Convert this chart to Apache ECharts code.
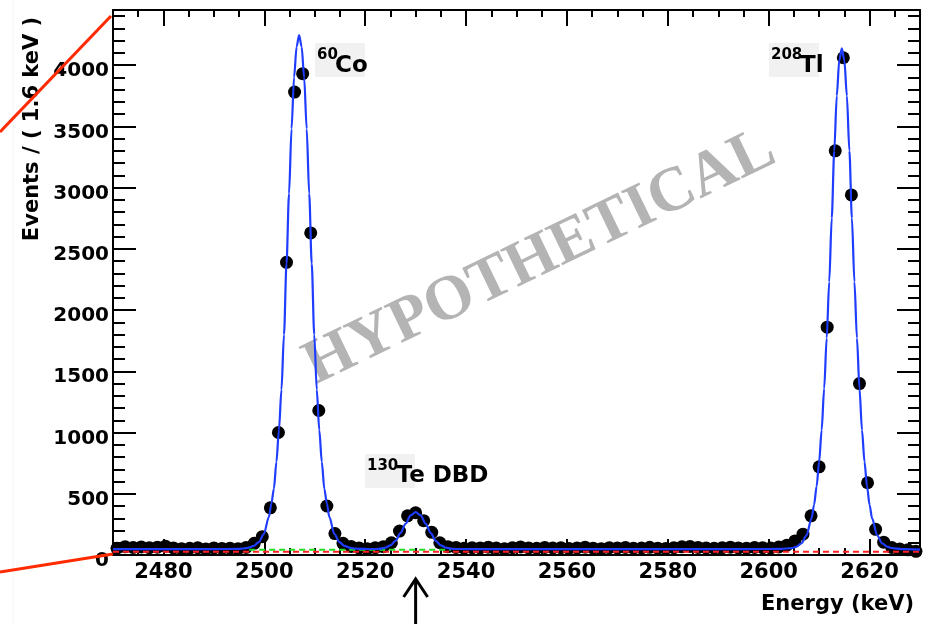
<!DOCTYPE html>
<html><head><meta charset="utf-8">
<script src="https://cdn.jsdelivr.net/npm/echarts@6/dist/echarts.min.js"></script>
<style>html,body{margin:0;padding:0;background:#fff}#c{width:932px;height:624px}</style>
</head><body><div id="c"></div>
<script>
// ---- data ----
const energies = [2470.8,2472.4,2474.0,2475.6,2477.2,2478.8,2480.4,2482.0,2483.6,2485.2,
2486.8,2488.4,2490.0,2491.6,2493.2,2494.8,2496.4,2498.0,2499.6,2501.2,
2502.8,2504.4,2506.0,2507.6,2509.2,2510.8,2512.4,2514.0,2515.6,2517.2,
2518.8,2520.4,2522.0,2523.6,2525.2,2526.8,2528.4,2530.0,2531.6,2533.2,
2534.8,2536.4,2538.0,2539.6,2541.2,2542.8,2544.4,2546.0,2547.6,2549.2,
2550.8,2552.4,2554.0,2555.6,2557.2,2558.8,2560.4,2562.0,2563.6,2565.2,
2566.8,2568.4,2570.0,2571.6,2573.2,2574.8,2576.4,2578.0,2579.6,2581.2,
2582.8,2584.4,2586.0,2587.6,2589.2,2590.8,2592.4,2594.0,2595.6,2597.2,
2598.8,2600.4,2602.0,2603.6,2605.2,2606.8,2608.4,2610.0,2611.6,2613.2,
2614.8,2616.4,2618.0,2619.6,2621.2,2622.8,2624.4,2626.0,2627.6,2629.2];
const counts = [55,68,62,66,60,64,72,58,52,55,
60,50,58,54,56,52,62,95,150,385,
1000,2390,3780,3930,2630,1180,400,175,95,70,
58,52,60,68,100,195,320,345,280,185,
100,68,62,55,60,58,64,57,52,60,
66,58,55,62,57,60,54,58,64,56,
52,60,58,62,55,57,63,56,54,60,
67,70,62,58,55,60,64,58,56,62,
60,57,66,80,115,170,320,720,1860,3300,
4060,2940,1400,590,210,105,62,48,42,30];

const fitEnergy = [2470,2480,2490,2494.9,2495.9,2496.9,2497.9,2498.9,2499.9,2500.9,2501.4,2501.9,2502.4,2502.9,2503.4,2503.9,2504.4,2504.9,2505.4,2505.9,2506.4,2506.9,
2507.4,2507.9,2508.4,2508.9,2509.4,2509.9,2510.4,2510.9,2511.4,2511.9,2512.4,2512.9,2513.9,2514.9,2515.9,2516.9,2517.9,2518.9,2520.5,
2522,2523,2524,2525,2526,2527,2528,2529,2530,2531,2532,2533,2534,2535,2536,2537,2538,2545,2560,2580,2595,
2602.5,2604.5,2605.5,2606.5,2607.5,2608.5,2609,2609.5,2610,2610.5,2611,2611.5,2612,2612.5,2613,2613.5,2614,2614.5,
2615,2615.5,2616,2616.5,2617,2617.5,2618,2618.5,2619,2619.5,2620,2620.5,2621.5,2622.5,2623.5,2624.5,2626.5,2630];
const fitCounts = [48,48,48,50,53,60,74,105,170,310,420,540,760,1020,1350,1800,2380,2950,3480,3900,4150,4245,
4150,3900,3480,2950,2380,1800,1350,1020,760,540,420,310,170,105,74,60,53,50,49,
49,52,60,78,116,178,255,323,350,323,255,178,116,78,60,52,49,48,48,48,48,
50,56,68,95,160,300,410,560,760,1020,1360,1770,2230,2750,3300,3750,4040,4136,
4040,3750,3300,2750,2230,1770,1360,1020,760,560,410,300,160,95,68,56,48,44];

const redBkgEnergy = [2470, 2630];
const redBkgCounts = [27, 27];
const greenBkgEnergy = [2497, 2537];
const greenBkgCounts = [42, 42];

const xTickLabels = [2480,2500,2520,2540,2560,2580,2600,2620];
const yTickLabels = [0,500,1000,1500,2000,2500,3000,3500,4000];

const xMin = 2470, xMax = 2630, yMin = 0, yMax = 4450;
const dbdEnergy = 2530;

// ---- chart ----
const pairs = (xs, ys) => xs.map((x, i) => [x, ys[i]]);
const FONT = 'DejaVu Sans';
const lineStyleAxis = { color: '#000', width: 2 };

const chart = echarts.init(document.getElementById('c'), null, { renderer: 'canvas' });

const xAx = (pos, main, showLine, labels) => ({
  type: 'value', position: pos, min: xMin, max: xMax,
  interval: main ? undefined : 5,
  axisLine: { show: showLine, onZero: false, lineStyle: lineStyleAxis },
  axisTick: main ? { show: true, inside: true, length: 16, lineStyle: { color: '#000', width: 2 }, customValues: xTickLabels }
                 : { show: true, inside: true, length: 7, lineStyle: { color: '#000', width: 2 } },
  axisLabel: labels ? { show: true, customValues: xTickLabels, formatter: v => String(v), color: '#000', fontFamily: FONT, fontWeight: 'bold', fontSize: 21, margin: 7 } : { show: false },
  splitLine: { show: false }
});
const yAx = (pos, main, showLine, labels) => ({
  type: 'value', position: pos, min: yMin, max: yMax,
  interval: main ? undefined : 100,
  axisLine: { show: showLine, onZero: false, lineStyle: lineStyleAxis },
  axisTick: main ? { show: true, inside: true, length: 23, lineStyle: { color: '#000', width: 2 }, customValues: yTickLabels }
                 : { show: true, inside: true, length: 12, lineStyle: { color: '#000', width: 2 } },
  axisLabel: labels ? { show: true, customValues: yTickLabels, formatter: v => String(v), color: '#000', fontFamily: FONT, fontWeight: 'bold', fontSize: 20, margin: 4, verticalAlign: 'top', lineHeight: 12 } : { show: false },
  splitLine: { show: false }
});

chart.setOption({
  animation: false,
  backgroundColor: '#fff',
  grid: { left: 113, right: 12, top: 10, bottom: 69, containLabel: false },
  xAxis: [ xAx('bottom', true, true, true), xAx('bottom', false, false, false), xAx('top', true, true, false), xAx('top', false, false, false) ],
  yAxis: [ yAx('left', true, true, true), yAx('left', false, false, false), yAx('right', true, true, false), yAx('right', false, false, false) ],
  series: [
    { type: 'scatter', xAxisIndex: 0, yAxisIndex: 0, data: pairs(energies, counts), symbol: 'circle', symbolSize: 13,
      itemStyle: { color: '#000', opacity: 1 }, z: 3 },
    { type: 'line', xAxisIndex: 0, yAxisIndex: 0, data: pairs(redBkgEnergy, redBkgCounts), showSymbol: false,
      lineStyle: { color: '#ff2020', width: 2, type: [6, 4] }, z: 4 },
    { type: 'line', xAxisIndex: 0, yAxisIndex: 0, data: pairs(greenBkgEnergy, greenBkgCounts), showSymbol: false,
      lineStyle: { color: '#22dd22', width: 2, type: [6, 4] }, z: 4 },
    { type: 'line', xAxisIndex: 0, yAxisIndex: 0, data: pairs(fitEnergy, fitCounts), showSymbol: false, smooth: 0.3, smoothMonotone: 'x',
      lineStyle: { color: '#1f3dff', width: 2.2 }, z: 5 }
  ]
});

const ax = chart.convertToPixel({ xAxisIndex: 0 }, dbdEnergy);
const boldText = (txt, x, y, size, extra) => Object.assign({ type: 'text', x: x, y: y, z: 10,
  style: { text: txt, fill: '#000', font: 'bold ' + size + 'px "' + FONT + '"', align: 'left', verticalAlign: 'middle' } }, extra || {});

chart.setOption({
  graphic: [
    { type: 'line', shape: { x1: 13, y1: 0, x2: 13, y2: 624 }, style: { stroke: '#f3f3f3', lineWidth: 1 }, z: 0 },
    { type: 'text', x: 540, y: 258, rotation: 0.45, z: 0, zlevel: 0,
      style: { text: 'HYPOTHETICAL', fill: '#b4b4b4', font: 'bold 63px "Liberation Serif"', align: 'center', verticalAlign: 'middle' } },
    { type: 'rect', shape: { x: 315, y: 43, width: 50, height: 34 }, style: { fill: '#f1f1f1' }, z: 9 },
    { type: 'rect', shape: { x: 769, y: 43, width: 50, height: 34 }, style: { fill: '#f1f1f1' }, z: 9 },
    { type: 'rect', shape: { x: 365, y: 454, width: 50, height: 34 }, style: { fill: '#f1f1f1' }, z: 9 },
    boldText('60', 317, 55.5, 15),
    boldText('Co', 335, 66, 23),
    boldText('208', 771, 55, 15),
    boldText('Tl', 800, 66, 23),
    boldText('130', 367, 466, 15),
    boldText('Te DBD', 396.5, 476.5, 23),
    { type: 'text', x: 914, y: 605, z: 10, style: { text: 'Energy (keV)', fill: '#000', font: 'bold 21px "' + FONT + '"', align: 'right', verticalAlign: 'middle' } },
    { type: 'text', x: 33, y: 129, rotation: Math.PI / 2, z: 10, style: { text: 'Events / ( 1.6 keV )', fill: '#000', font: 'bold 21px "' + FONT + '"', align: 'center', verticalAlign: 'middle' } },
    { type: 'line', shape: { x1: 0, y1: 132, x2: 111, y2: 16 }, style: { stroke: '#ff2a00', lineWidth: 3 }, z: 11 },
    { type: 'line', shape: { x1: 0, y1: 572, x2: 113, y2: 554 }, style: { stroke: '#ff2a00', lineWidth: 3 }, z: 11 },
    { type: 'line', shape: { x1: ax, y1: 581, x2: ax, y2: 624 }, style: { stroke: '#000', lineWidth: 3 }, z: 11 },
    { type: 'polyline', shape: { points: [[ax - 12, 597], [ax, 579], [ax + 12, 597]] }, style: { stroke: '#000', lineWidth: 3, fill: null }, z: 11 }
  ]
});
</script></body></html>
